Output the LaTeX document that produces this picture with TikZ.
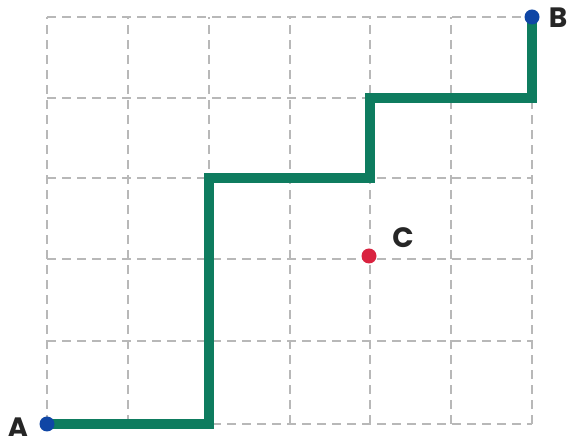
\documentclass[tikz,border=0pt]{standalone}
\usepackage{fontspec}
\setmainfont{Poppins}
\definecolor{gridc}{HTML}{B8B8B8}
\definecolor{pathc}{HTML}{0E7C5F}
\definecolor{bluec}{HTML}{0F46A5}
\definecolor{redc}{HTML}{D9223F}
\definecolor{textc}{HTML}{262626}
\tikzset{
  gridline/.style={gridc, line width=1.3pt, dash pattern=on 9pt off 6pt},
  route/.style={pathc, line width=10pt, line join=miter, line cap=butt},
  dotnode/.style={circle, inner sep=0pt, minimum size=15pt},
  lbl/.style={text=textc, font=\bfseries\fontsize{28}{28}\selectfont, inner sep=0pt}
}
\begin{document}
\begin{tikzpicture}[x=1pt,y=1pt]
\useasboundingbox (0,0) rectangle (568,436);
% grid (y flipped: Y = 436 - y)
\foreach \x in {47,128,209,290,370,451,532}
  \draw[gridline] (\x,12) -- (\x,419);
\foreach \y in {12,95,177,258,338,419}
  \draw[gridline] (47,\y) -- (532,\y);
% route corners
\coordinate (p0) at (47,12);
\coordinate (p1) at (209,12);
\coordinate (p2) at (209,258);
\coordinate (p3) at (370,258);
\coordinate (p4) at (370,338);
\coordinate (p5) at (532,338);
\coordinate (p6) at (532,419);
\draw[route] (p0) -- (p1) -- (p2) -- (p3) -- (p4) -- (p5) -- (p6);
% points
\node[dotnode, fill=bluec] (A) at (p0) {};
\node[dotnode, fill=bluec] (B) at (p6) {};
\node[dotnode, fill=redc] (C) at (369,180) {};
\node[lbl] (la) at (18,8) {A};
\node[lbl] (lb) at (558,418) {B};
\node[lbl] (lc) at (403,198) {C};
\end{tikzpicture}
\end{document}
